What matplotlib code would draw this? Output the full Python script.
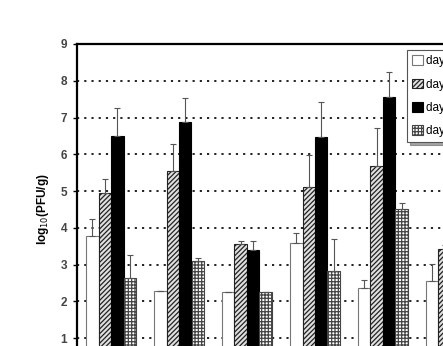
import numpy as np
import matplotlib
matplotlib.use('Agg')
import matplotlib.pyplot as plt

# data
groups = [1, 2, 3, 4, 5, 6]
labels = ['day 1', 'day 3', 'day 5', 'day 7']
day1 = [3.78, 2.29, 2.27, 3.60, 2.36, 2.56]
day1_err = [0.45, 0.0, 0.0, 0.25, 0.22, 0.47]
day3 = [4.95, 5.54, 3.55, 5.12, 5.69, 3.42]
day3_err = [0.38, 0.75, 0.08, 0.86, 1.03, 0.12]
day5 = [6.49, 6.87, 3.40, 6.46, 7.56, 0.0]
day5_err = [0.76, 0.65, 0.25, 0.97, 0.67, 0.0]
day7 = [2.65, 3.10, 2.26, 2.83, 4.51, 0.0]
day7_err = [0.62, 0.08, 0.0, 0.86, 0.18, 0.0]

plt.rcParams['font.family'] = ['Liberation Sans', 'DejaVu Sans']
plt.rcParams['hatch.linewidth'] = 0.9

fig = plt.figure(figsize=(4.43, 3.46), dpi=100)
ax = fig.add_axes([77 / 443, 1 - 375 / 346, 408 / 443, 331 / 346])

x = np.arange(len(groups))
w = 12.5 / 68
series = [day1, day3, day5, day7]
errs = [day1_err, day3_err, day5_err, day7_err]
styles = [dict(facecolor='white', edgecolor='#777777', hatch=None),
          dict(facecolor='#e0e0e0', edgecolor='#222222', hatch='///////'),
          dict(facecolor='black', edgecolor='black', hatch=None),
          dict(facecolor='white', edgecolor='#444444', hatch='+++++')]

handles = []
for i, (vals, err, st) in enumerate(zip(series, errs, styles)):
    pos = x - 1.5 * w + i * w
    b = ax.bar(pos, vals, width=w, linewidth=0.8, zorder=2, label=labels[i], **st)
    handles.append(b)
    e = np.array(err)
    ax.errorbar(pos, vals, yerr=[np.zeros_like(e), e], fmt='none', ecolor='#555555',
                elinewidth=0.8, capsize=2.5, capthick=0.8, zorder=3)

ax.set_xlim(-0.5, 5.5)
ax.set_ylim(0, 9)
ax.set_yticks(range(1, 10))
ax.set_xticks([])
ax.yaxis.grid(True, color='#111111', linestyle=(0, (1.2, 2.8)), linewidth=1.3, zorder=0)
ax.set_axisbelow(True)
for s in ['left', 'top']:
    ax.spines[s].set_linewidth(1.6)
ax.spines['bottom'].set_visible(False)
ax.tick_params(axis='y', length=3, width=1, pad=4, labelsize=8.5, labelcolor='#444444')
for t in ax.get_yticklabels():
    t.set_fontweight('bold')
ax.set_ylabel('log$_{10}$(PFU/g)', fontsize=8.5, fontweight='bold', labelpad=7)

leg = fig.legend(handles=handles, labels=labels, loc='upper left',
                 bbox_to_anchor=(407 / 443, 1 - 50 / 346), borderaxespad=0,
                 fontsize=8.5, frameon=True, shadow=True, fancybox=False,
                 labelspacing=0.95, handlelength=0.9, handleheight=0.9,
                 handletextpad=0.3, borderpad=0.45, edgecolor='#555555')
leg.get_frame().set_linewidth(0.8)

fig.savefig('out.png', dpi=100)
